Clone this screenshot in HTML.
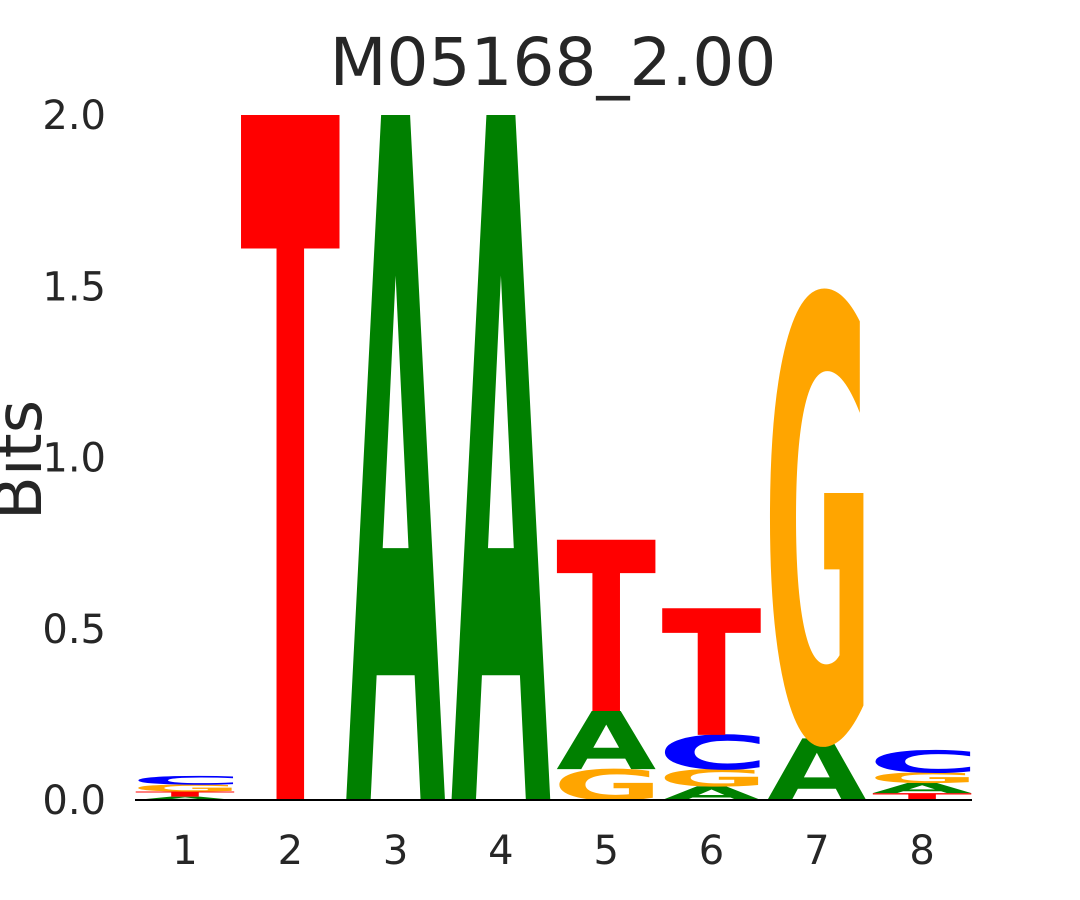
<!DOCTYPE html>
<html><head><meta charset="utf-8"><style>
body{margin:0;background:#fff;width:1080px;height:900px;overflow:hidden}
svg{display:block}
</style></head><body>
<svg id="chart" width="1080" height="900" style="overflow:hidden">
<text x="553" y="85" text-anchor="middle" font-family="DejaVu Sans, Liberation Sans, sans-serif" font-size="66" fill="#262626">M05168_2.00</text>
<text transform="translate(41,460) rotate(-90)" text-anchor="middle" font-family="DejaVu Sans, Liberation Sans, sans-serif" font-size="64" fill="#262626">Bits</text>
<g id="yticks"></g><g id="xticks"></g><g id="letters"></g>
<line x1="135" y1="800" x2="972" y2="800" stroke="#000" stroke-width="2"/>
</svg>
<script>
const positions=[1,2,3,4,5,6,7,8];
const bitsA=[0.01,0,2.0,2.0,0.17,0.04,0.18,0.03];
const bitsC=[0.025,0,0,0,0,0.10,0,0.065];
const bitsG=[0.02,0,0,0,0.09,0.05,1.29,0.03];
const bitsT=[0.015,2.0,0,0,0.50,0.37,0,0.02];
const yTickVals=[0,0.5,1.0,1.5,2.0];
const yTickLabels=["0.0","0.5","1.0","1.5","2.0"];
const NS="http://www.w3.org/2000/svg";
const y=v=>800-v*342.5;
const x=p=>185+(p-1)*105.3;
const colors={A:"#008000",C:"#0000ff",G:"#ffa500",T:"#ff0000"};
const widthFactor={A:1.0,C:1.12,G:1.1,T:1.0};
const yt=document.getElementById('yticks');
yTickVals.forEach((v,i)=>{const t=document.createElementNS(NS,'text');
t.setAttribute('x',106);t.setAttribute('y',y(v)+14);t.setAttribute('text-anchor','end');
t.setAttribute('font-family','DejaVu Sans, Liberation Sans, sans-serif');t.setAttribute('font-size','40');t.setAttribute('fill','#262626');


t.textContent=yTickLabels[i];yt.appendChild(t);});
const xt=document.getElementById('xticks');
positions.forEach(p=>{const t=document.createElementNS(NS,'text');
t.setAttribute('x',x(p));t.setAttribute('y',864);t.setAttribute('text-anchor','middle');
t.setAttribute('font-family','DejaVu Sans, Liberation Sans, sans-serif');t.setAttribute('font-size','40');t.setAttribute('fill','#262626');


t.textContent=String(p);xt.appendChild(t);});
const lg=document.getElementById('letters');
const capH=72.9,W=100;
positions.forEach((p,i)=>{
  const items=[['A',bitsA[i]],['C',bitsC[i]],['G',bitsG[i]],['T',bitsT[i]]].filter(d=>d[1]>0).sort((a,b)=>a[1]-b[1]);
  let base=0;
  items.forEach(([L,v])=>{
    const yb=y(base),h=y(0)-y(v);
    const w=W*widthFactor[L];
    const t=document.createElementNS(NS,'text');
    t.setAttribute('transform',`translate(${x(p)-W/2-(w-W)*0.35},${yb}) scale(1,${h/capH})`);
    t.setAttribute('x',0);t.setAttribute('y',0);
    t.setAttribute('font-family','DejaVu Sans, Liberation Sans, sans-serif');t.setAttribute('font-weight','bold');
    t.setAttribute('font-size','100');t.setAttribute('textLength',w);t.setAttribute('lengthAdjust','spacingAndGlyphs');
    t.setAttribute('fill',colors[L]);
    
    
    t.textContent=L;lg.appendChild(t);
    base+=v;
  });
});
</script>
</body></html>
